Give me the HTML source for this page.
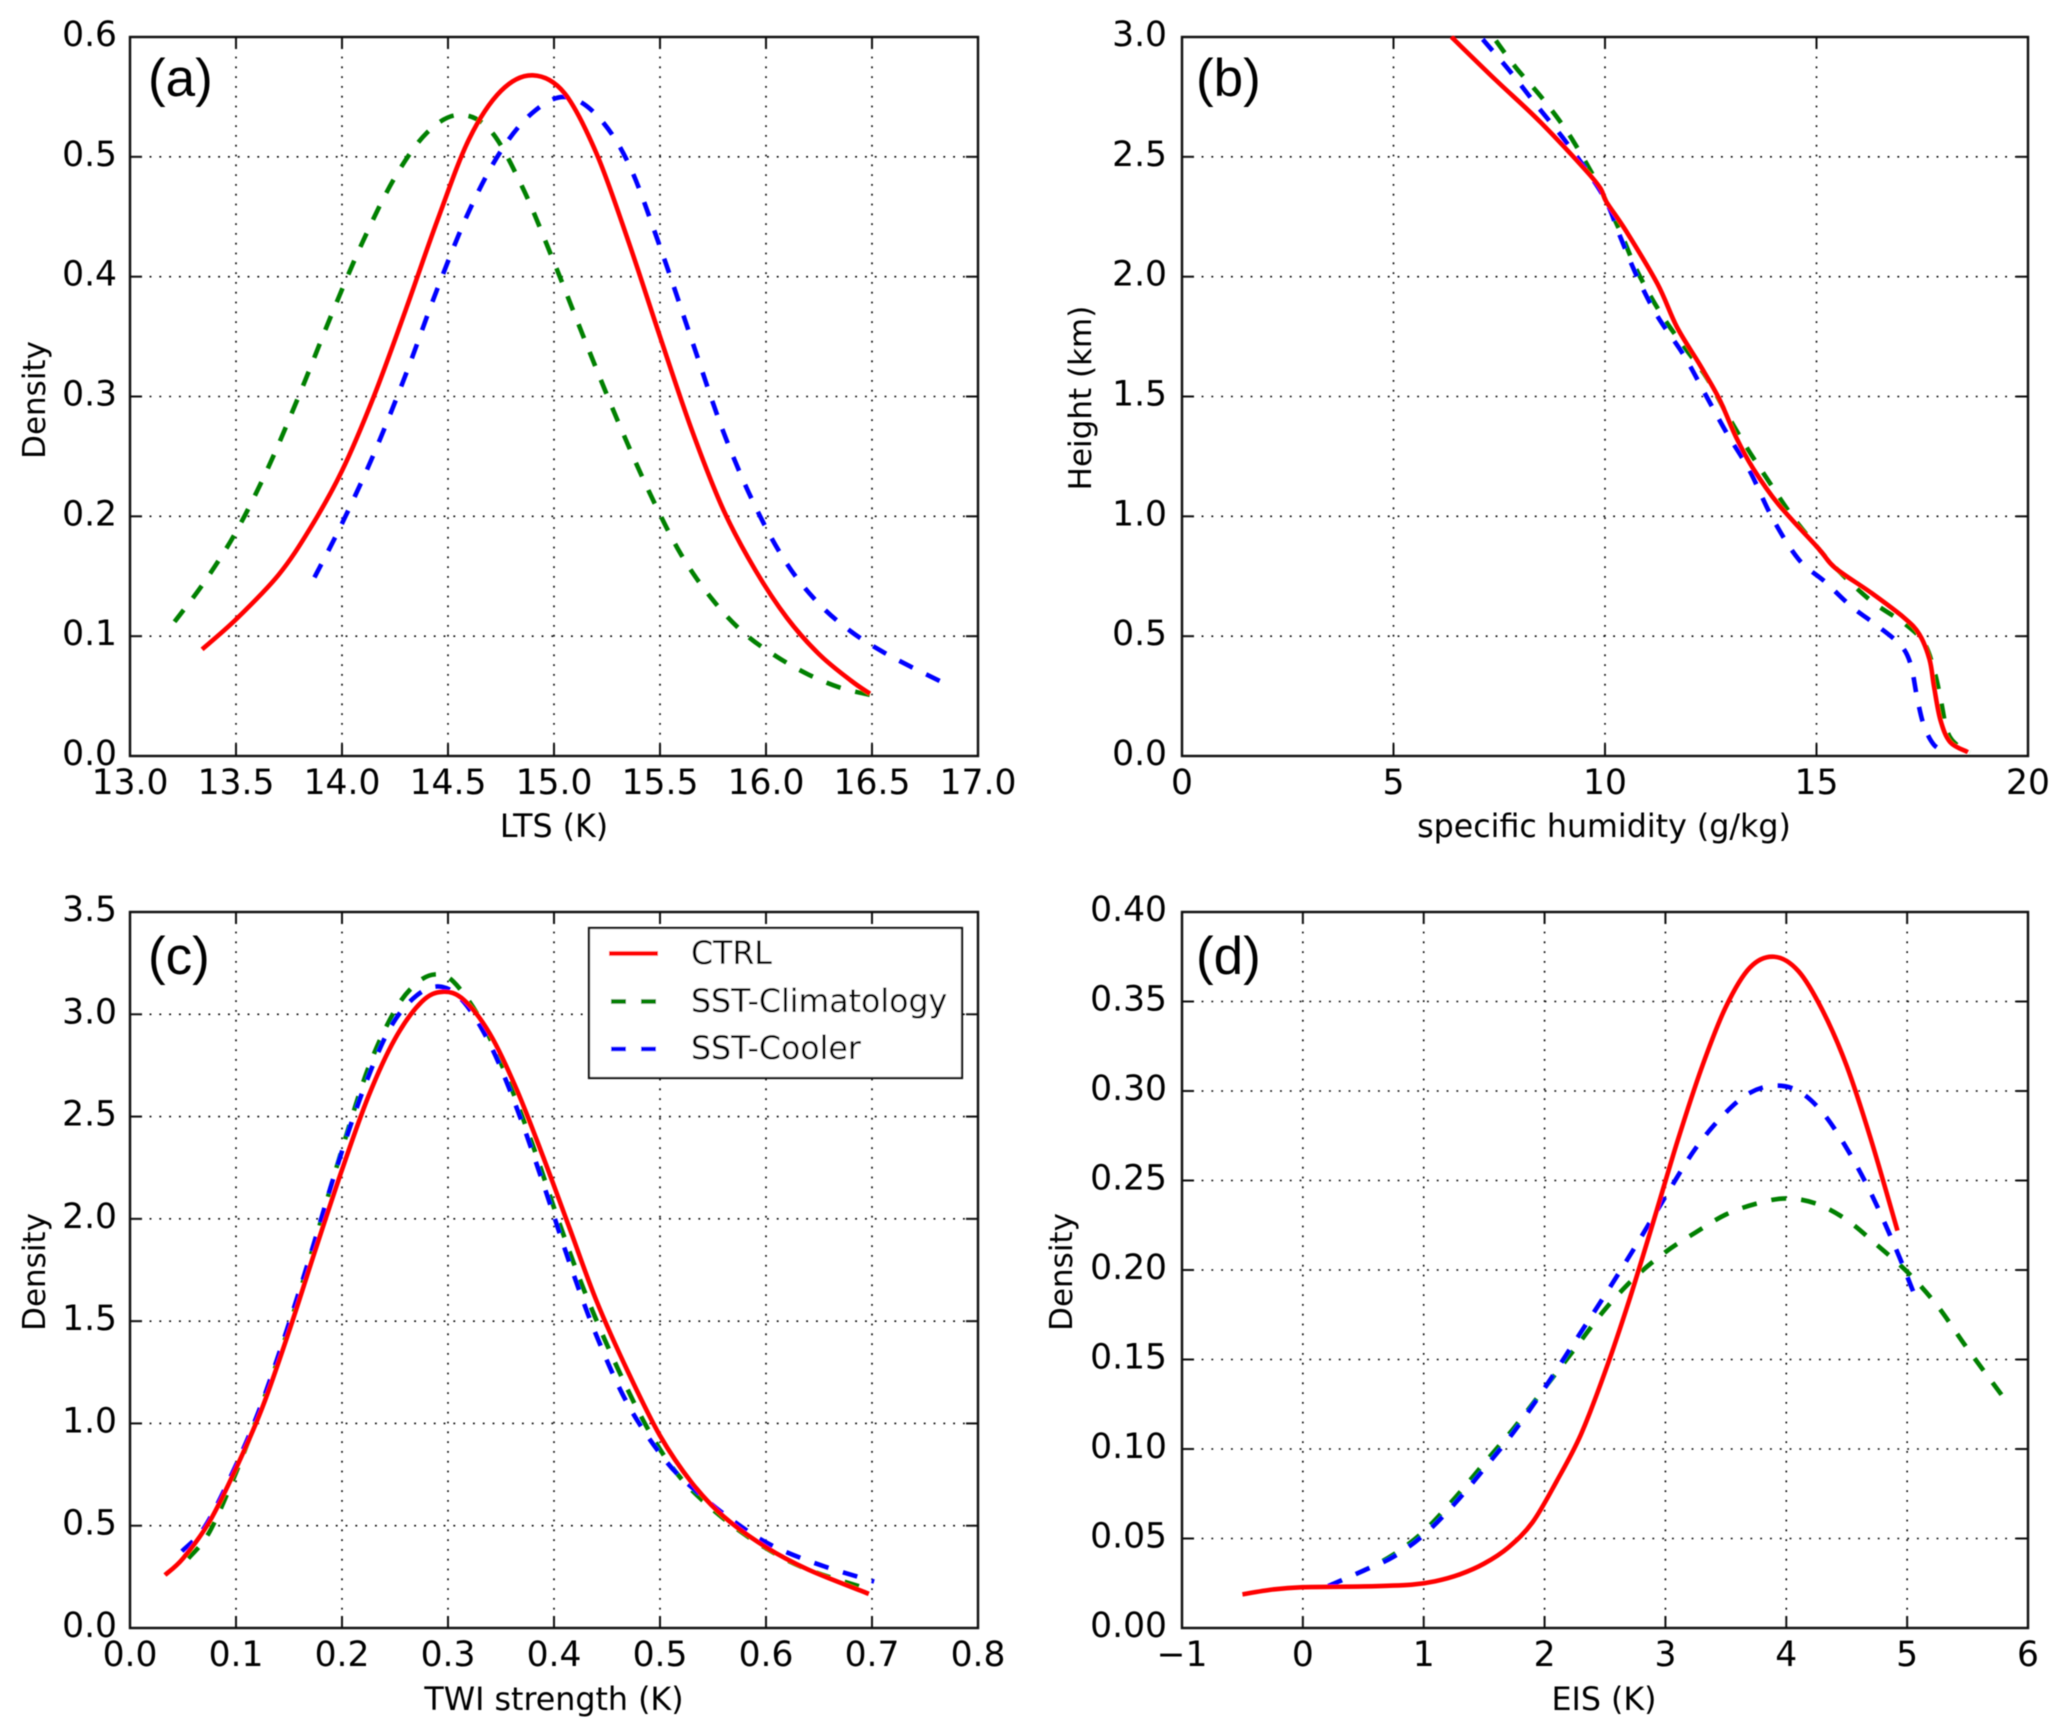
<!DOCTYPE html>
<html lang="en">
<head>
<meta charset="utf-8">
<title>Density and humidity panels</title>
<style>
html,body{margin:0;padding:0;background:#fff;}
svg{display:block;}
text{font-family:"DejaVu Sans","Liberation Sans",sans-serif;fill:#000;}
.tick{font-size:34.5px;}
.axlab{font-size:31.7px;}
.plab{font-family:"Liberation Sans",sans-serif;font-size:53px;fill:#000;}
.leg{font-size:31.6px;}
</style>
</head>
<body>
<svg id="fig" xmlns="http://www.w3.org/2000/svg" width="2067" height="1736" viewBox="0 0 2067 1736">
<defs>
<filter id="soft" filterUnits="userSpaceOnUse" x="0" y="0" width="2067" height="1736"><feGaussianBlur stdDeviation="0.55"/></filter>
</defs>
<rect x="0" y="0" width="2067" height="1736" fill="#fff"/>
<g id="root" filter="url(#soft)">
<g id="panel-a"></g>
<g id="panel-b"></g>
<g id="panel-c"></g>
<g id="panel-d"></g>

<text class="axlab" x="554" y="837" text-anchor="middle">LTS (K)</text>
<text class="axlab" x="1604" y="837" text-anchor="middle">specific humidity (g/kg)</text>
<text class="axlab" x="554" y="1710" text-anchor="middle">TWI strength (K)</text>
<text class="axlab" x="1604" y="1710" text-anchor="middle">EIS (K)</text>
<text class="axlab" transform="translate(45 400) rotate(-90)" text-anchor="middle" style="font-size:31px">Density</text>
<text class="axlab" transform="translate(1091 398) rotate(-90)" text-anchor="middle" style="font-size:31px">Height (km)</text>
<text class="axlab" transform="translate(45 1272) rotate(-90)" text-anchor="middle" style="font-size:31px">Density</text>
<text class="axlab" transform="translate(1072 1272) rotate(-90)" text-anchor="middle" style="font-size:31px">Density</text>

<text class="plab" x="148" y="96">(a)</text>
<text class="plab" x="1196" y="96">(b)</text>
<text class="plab" x="148" y="974">(c)</text>
<text class="plab" x="1196" y="974">(d)</text>

<g id="legend">
<rect x="589" y="928" width="373" height="150" fill="#fff" stroke="#111" stroke-width="2.2"/>
<line x1="609" x2="658" y1="953.5" y2="953.5" stroke="#ff0000" stroke-width="4.6"/>
<text class="leg" x="691" y="964">CTRL</text>
<line x1="611" x2="657" y1="1001.5" y2="1001.5" stroke="#008000" stroke-width="4.6" stroke-dasharray="15 15"/>
<text class="leg" x="691" y="1012">SST-Climatology</text>
<line x1="611" x2="657" y1="1049" y2="1049" stroke="#0000ff" stroke-width="4.6" stroke-dasharray="15 15"/>
<text class="leg" x="691" y="1059">SST-Cooler</text>
</g>
</g>
</svg>
<script>
// Panel (a) LTS density
const aXTicks = [13,13.5,14,14.5,15,15.5,16,16.5,17];
const aXTickLabels = ["13.0","13.5","14.0","14.5","15.0","15.5","16.0","16.5","17.0"];
const aYTicks = [0,0.1,0.2,0.3,0.4,0.5,0.6];
const aYTickLabels = ["0.0","0.1","0.2","0.3","0.4","0.5","0.6"];
const aCtrlX = [13.34,13.5,13.7,13.85,14.0,14.15,14.3,14.45,14.6,14.75,14.9,15.05,15.2,15.35,15.5,15.65,15.8,15.95,16.1,16.25,16.4,16.49];
const aCtrlY = [0.089,0.114,0.151,0.190,0.238,0.300,0.372,0.447,0.515,0.555,0.568,0.553,0.503,0.430,0.350,0.272,0.205,0.155,0.115,0.085,0.063,0.052];
const aClimX = [13.21,13.35,13.5,13.65,13.8,13.95,14.1,14.25,14.4,14.55,14.7,14.85,15.0,15.15,15.3,15.45,15.6,15.75,15.9,16.05,16.2,16.35,16.49];
const aClimY = [0.112,0.145,0.187,0.24,0.302,0.368,0.43,0.483,0.52,0.535,0.522,0.475,0.412,0.345,0.28,0.22,0.168,0.13,0.102,0.083,0.068,0.057,0.051];
const aCoolX = [13.87,14.0,14.15,14.3,14.45,14.6,14.75,14.9,15.05,15.2,15.35,15.5,15.65,15.8,15.95,16.1,16.25,16.4,16.55,16.7,16.85];
const aCoolY = [0.149,0.194,0.252,0.318,0.39,0.455,0.505,0.537,0.55,0.535,0.495,0.425,0.347,0.27,0.208,0.16,0.127,0.104,0.087,0.073,0.06];

// Panel (b) humidity profile
const bXTicks = [0,5,10,15,20];
const bXTickLabels = ["0","5","10","15","20"];
const bYTicks = [0,0.5,1,1.5,2,2.5,3];
const bYTickLabels = ["0.0","0.5","1.0","1.5","2.0","2.5","3.0"];
const bCtrlX = [6.37,7.42,8.5,9.76,10.04,10.5,11.24,11.7,12.25,12.7,13.1,13.5,14.1,15.05,15.44,16.3,17.07,17.43,17.67,17.78,17.93,18.16,18.58];
const bCtrlY = [3.0,2.82,2.64,2.4,2.31,2.19,1.97,1.79,1.63,1.49,1.33,1.2,1.05,0.865,0.785,0.68,0.577,0.508,0.404,0.288,0.15,0.058,0.016];
const bClimX = [7.42,7.89,8.51,9.14,9.76,10.04,10.38,10.77,11.32,11.86,12.4,12.87,13.34,13.8,14.43,15.05,15.52,16.3,17.07,17.54,17.78,17.93,18.09,18.32,18.63];
const bClimY = [2.985,2.873,2.746,2.596,2.41,2.31,2.18,2.02,1.846,1.71,1.58,1.43,1.29,1.165,1.0,0.865,0.773,0.646,0.554,0.473,0.358,0.242,0.104,0.046,0.016];
const bCoolX = [7.11,7.74,8.36,8.98,9.6,10.04,10.38,10.77,11.24,11.86,12.4,12.87,13.42,13.96,14.58,15.2,15.83,16.45,17.0,17.23,17.38,17.54,17.78,18.09];
const bCoolY = [2.99,2.86,2.72,2.585,2.435,2.31,2.158,1.996,1.835,1.673,1.5,1.35,1.19,0.992,0.82,0.727,0.623,0.542,0.46,0.38,0.242,0.127,0.046,0.016];

// Panel (c) TWI strength density
const cXTicks = [0,0.1,0.2,0.3,0.4,0.5,0.6,0.7,0.8];
const cXTickLabels = ["0.0","0.1","0.2","0.3","0.4","0.5","0.6","0.7","0.8"];
const cYTicks = [0,0.5,1,1.5,2,2.5,3,3.5];
const cYTickLabels = ["0.0","0.5","1.0","1.5","2.0","2.5","3.0","3.5"];
const cCtrlX = [0.033,0.05,0.075,0.1,0.125,0.15,0.175,0.2,0.225,0.25,0.275,0.295,0.315,0.34,0.365,0.39,0.415,0.44,0.47,0.5,0.53,0.56,0.6,0.64,0.697];
const cCtrlY = [0.259,0.34,0.52,0.78,1.08,1.45,1.85,2.24,2.6,2.88,3.06,3.11,3.07,2.9,2.63,2.3,1.95,1.6,1.25,0.94,0.71,0.545,0.395,0.285,0.167];
const cClimX = [0.055,0.075,0.1,0.125,0.15,0.175,0.2,0.225,0.25,0.27,0.288,0.305,0.33,0.355,0.38,0.405,0.43,0.46,0.49,0.52,0.56,0.6,0.64,0.699];
const cClimY = [0.34,0.47,0.76,1.1,1.47,1.9,2.34,2.74,3.02,3.15,3.195,3.16,2.98,2.7,2.36,1.98,1.63,1.27,0.96,0.73,0.535,0.39,0.285,0.186];
const cCoolX = [0.049,0.07,0.095,0.12,0.145,0.17,0.195,0.22,0.245,0.27,0.293,0.315,0.34,0.365,0.39,0.415,0.44,0.47,0.505,0.535,0.57,0.605,0.65,0.702];
const cCoolY = [0.375,0.49,0.74,1.04,1.41,1.82,2.25,2.63,2.93,3.09,3.135,3.06,2.85,2.54,2.17,1.78,1.43,1.09,0.82,0.665,0.52,0.405,0.31,0.227];

// Panel (d) EIS density
const dXTicks = [-1,0,1,2,3,4,5,6];
const dXTickLabels = ["\u22121","0","1","2","3","4","5","6"];
const dYTicks = [0,0.05,0.1,0.15,0.2,0.25,0.3,0.35,0.4];
const dYTickLabels = ["0.00","0.05","0.10","0.15","0.20","0.25","0.30","0.35","0.40"];
const dCtrlX = [-0.5,-0.25,0,0.5,0.9,1.1,1.3,1.5,1.7,1.9,2.1,2.3,2.5,2.7,2.9,3.1,3.3,3.5,3.7,3.9,4.1,4.3,4.5,4.7,4.92];
const dCtrlY = [0.0188,0.0215,0.0228,0.0232,0.0242,0.0262,0.03,0.036,0.045,0.059,0.082,0.108,0.143,0.183,0.227,0.272,0.313,0.347,0.369,0.375,0.367,0.345,0.314,0.273,0.222];
const dClimX = [0.21,0.5,0.75,1,1.25,1.5,1.75,2,2.25,2.5,2.75,3,3.25,3.5,3.75,4,4.25,4.5,4.75,5,5.25,5.5,5.85];
const dClimY = [0.0234,0.032,0.041,0.054,0.072,0.092,0.112,0.134,0.156,0.178,0.196,0.21,0.221,0.231,0.237,0.24,0.237,0.228,0.214,0.199,0.18,0.156,0.124];
const dCoolX = [0.21,0.5,0.75,1,1.25,1.5,1.75,2,2.25,2.5,2.75,3,3.25,3.5,3.7,3.9,4.1,4.3,4.5,4.7,4.9,5.05];
const dCoolY = [0.0234,0.032,0.0398,0.052,0.069,0.089,0.11,0.134,0.16,0.186,0.213,0.241,0.268,0.288,0.299,0.303,0.30,0.288,0.268,0.243,0.213,0.188];

const SVGNS = 'http://www.w3.org/2000/svg';

function mk(parent, tag, attrs) {
  const e = document.createElementNS(SVGNS, tag);
  for (const k in attrs) e.setAttribute(k, attrs[k]);
  parent.appendChild(e);
  return e;
}

function linear(d0, d1, r0, r1) {
  return function (v) { return r0 + (v - d0) * (r1 - r0) / (d1 - d0); };
}

function smoothPath(xs, ys, sx, sy) {
  const p = xs.map(function (x, i) { return [sx(x), sy(ys[i])]; });
  let d = 'M' + p[0][0].toFixed(2) + ' ' + p[0][1].toFixed(2);
  for (let i = 0; i < p.length - 1; i++) {
    const a = p[Math.max(i - 1, 0)], b = p[i], c = p[i + 1], e = p[Math.min(i + 2, p.length - 1)];
    const c1x = b[0] + (c[0] - a[0]) / 6, c1y = b[1] + (c[1] - a[1]) / 6;
    const c2x = c[0] - (e[0] - b[0]) / 6, c2y = c[1] - (e[1] - b[1]) / 6;
    d += 'C' + c1x.toFixed(2) + ' ' + c1y.toFixed(2) + ' ' + c2x.toFixed(2) + ' ' + c2y.toFixed(2) + ' ' + c[0].toFixed(2) + ' ' + c[1].toFixed(2);
  }
  return d;
}

function drawPanel(id, box, xTicks, xLabels, yTicks, yLabels, series) {
  const g = document.getElementById(id);
  const sx = linear(xTicks[0], xTicks[xTicks.length - 1], box.l, box.r);
  const sy = linear(yTicks[0], yTicks[yTicks.length - 1], box.b, box.t);

  xTicks.forEach(function (v, i) {
    const x = sx(v);
    if (i > 0 && i < xTicks.length - 1) {
      const gl = mk(g, 'line', {x1: x, x2: x, y1: box.t, y2: box.b, stroke: '#000', 'stroke-width': 1.6, 'stroke-dasharray': '1.8 8'});
      
      
      const t1 = mk(g, 'line', {x1: x, x2: x, y1: box.b, y2: box.b - 12, stroke: '#111', 'stroke-width': 2});
      
      
      const t2 = mk(g, 'line', {x1: x, x2: x, y1: box.t, y2: box.t + 12, stroke: '#111', 'stroke-width': 2});
      
      
    }
    const lb = mk(g, 'text', {x: x, y: box.b + 38, 'text-anchor': 'middle', 'class': 'tick'});
    lb.textContent = xLabels[i];
    
    
  });

  yTicks.forEach(function (v, i) {
    const y = sy(v);
    if (i > 0 && i < yTicks.length - 1) {
      const gl = mk(g, 'line', {x1: box.l, x2: box.r, y1: y, y2: y, stroke: '#000', 'stroke-width': 1.6, 'stroke-dasharray': '1.8 8'});
      
      
      const t1 = mk(g, 'line', {x1: box.l, x2: box.l + 12, y1: y, y2: y, stroke: '#111', 'stroke-width': 2});
      
      
      const t2 = mk(g, 'line', {x1: box.r, x2: box.r - 12, y1: y, y2: y, stroke: '#111', 'stroke-width': 2});
      
      
    }
    const lb = mk(g, 'text', {x: box.l - box.gap, y: y + 9, 'text-anchor': 'end', 'class': 'tick'});
    lb.textContent = yLabels[i];
    
    
  });

  const frame = mk(g, 'rect', {x: box.l, y: box.t, width: box.r - box.l, height: box.b - box.t, fill: 'none', stroke: '#111', 'stroke-width': 2.4});
  
  

  series.forEach(function (s) {
    const attrs = {d: smoothPath(s.x, s.y, sx, sy), fill: 'none', stroke: s.color, 'stroke-width': 4.6, 'stroke-linejoin': 'round'};
    if (s.dash) attrs['stroke-dasharray'] = s.dash;
    const path = mk(g, 'path', attrs);
    
    
  });
}

const RED = '#ff0000', GREEN = '#008000', BLUE = '#0000ff', DASH = '15 15';

function triple(cx, cy, kx, ky, ox, oy) {
  return [
    {name: 'sst-climatology-line', x: kx, y: ky, color: GREEN, dash: DASH},
    {name: 'sst-cooler-line', x: ox, y: oy, color: BLUE, dash: DASH},
    {name: 'ctrl-line', x: cx, y: cy, color: RED}
  ];
}

drawPanel('panel-a', {l: 130, r: 978, t: 37, b: 756, gap: 13}, aXTicks, aXTickLabels, aYTicks, aYTickLabels,
  triple(aCtrlX, aCtrlY, aClimX, aClimY, aCoolX, aCoolY));
drawPanel('panel-b', {l: 1182, r: 2028, t: 37, b: 756, gap: 15}, bXTicks, bXTickLabels, bYTicks, bYTickLabels,
  triple(bCtrlX, bCtrlY, bClimX, bClimY, bCoolX, bCoolY));
drawPanel('panel-c', {l: 130, r: 978, t: 912, b: 1628, gap: 13}, cXTicks, cXTickLabels, cYTicks, cYTickLabels,
  triple(cCtrlX, cCtrlY, cClimX, cClimY, cCoolX, cCoolY));
drawPanel('panel-d', {l: 1182, r: 2028, t: 912, b: 1628, gap: 15}, dXTicks, dXTickLabels, dYTicks, dYTickLabels,
  triple(dCtrlX, dCtrlY, dClimX, dClimY, dCoolX, dCoolY));

// Keep the legend above the panel grid lines.
const root = document.getElementById('root');
root.appendChild(document.getElementById('legend'));
</script>
</body>
</html>
